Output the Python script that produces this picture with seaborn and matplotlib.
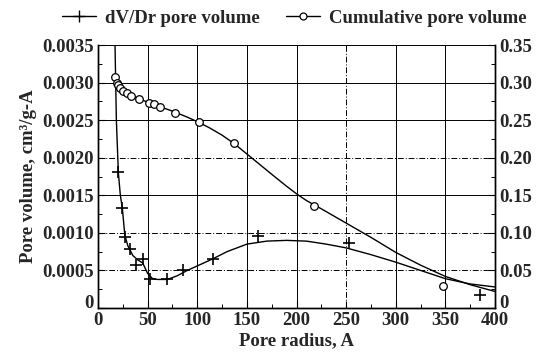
import numpy as np
import pandas as pd
import matplotlib
matplotlib.use("Agg")
import matplotlib.pyplot as plt
from matplotlib.lines import Line2D
from matplotlib.ticker import MultipleLocator, FuncFormatter
import seaborn as sns

# marcadores "+" (dV/Dr), eixo esquerdo
raio_dv = [20.5, 24, 27.5, 32, 38.4, 45.8, 52, 70, 86, 115.6, 161, 253, 385]
dv_pontos = [0.00181, 0.00133, 0.00095, 0.00078, 0.00057, 0.00065, 0.00039,
             0.00038, 0.00050, 0.00065, 0.00096, 0.00086, 0.00017]

# curva suavizada do dV/Dr
raio_dv_curva = [17, 18.5, 20.5, 22.5, 24.5, 27, 30, 35, 40, 45, 50, 55, 60, 70, 80,
                 90, 100, 115, 130, 150, 170, 190, 210, 230, 250, 275, 300, 325,
                 350, 375, 400]
dv_curva = [0.0036, 0.0025, 0.0018, 0.0015, 0.00133, 0.00097, 0.00083, 0.00070,
            0.00064, 0.00060, 0.00046, 0.00039, 0.00038, 0.00038, 0.00043,
            0.00050, 0.00056, 0.00065, 0.00075, 0.00085, 0.00089, 0.00090,
            0.00089, 0.00085, 0.00080, 0.00071, 0.00061, 0.00050, 0.00039,
            0.00032, 0.00028]

# volume acumulado (eixo direito)
raio_acum = [17, 18.7, 20.4, 22, 24.8, 29, 33.3, 41.2, 51.7, 56.1, 62.9, 77.2,
             102, 137, 218, 348]
acum_pontos = [0.307, 0.300, 0.2965, 0.293, 0.289, 0.286, 0.282, 0.278, 0.273,
               0.271, 0.267, 0.260, 0.247, 0.220, 0.136, 0.029]

raio_acum_curva = [17, 20, 25, 30, 40, 50, 60, 75, 90, 100, 112, 125, 137, 150,
                   175, 190, 200, 210, 225, 250, 275, 300, 325, 350, 375, 400]
acum_curva = [0.307, 0.298, 0.290, 0.286, 0.279, 0.274, 0.269, 0.262, 0.254,
              0.248, 0.240, 0.230, 0.219, 0.205, 0.178, 0.162, 0.152, 0.143,
              0.132, 0.113, 0.094, 0.074, 0.057, 0.042, 0.031, 0.022]

sns.set_theme(style="ticks")
plt.rcParams['font.family'] = ['Liberation Serif', 'DejaVu Serif']
plt.rcParams['font.weight'] = 'bold'
plt.rcParams['axes.labelweight'] = 'bold'
plt.rcParams['font.size'] = 13.5
plt.rcParams['xtick.direction'] = 'in'
plt.rcParams['ytick.direction'] = 'in'

fig = plt.figure(figsize=(5.4, 3.55), dpi=100)
ax = fig.add_axes([0.1815, 0.1324, 0.7352, 0.7408])
ax2 = ax.twinx()

# grade
ax.set_axisbelow(True)
ax.grid(True, color='black', lw=0.7)

sns.lineplot(x=raio_dv_curva, y=dv_curva, ax=ax, color='black', lw=1.0, sort=False)
sns.scatterplot(x=raio_dv, y=dv_pontos, ax=ax, marker='+', s=75, color='black',
                linewidth=1.2, zorder=3)

sns.lineplot(x=raio_acum_curva, y=acum_curva, ax=ax2, color='black', lw=1.0, sort=False)
sns.scatterplot(x=raio_acum, y=acum_pontos, ax=ax2, marker='o', s=30,
                facecolor='white', edgecolor='black', linewidth=0.9, zorder=3)

ax.set_xlim(0, 400)
ax.set_ylim(0, 0.0035)
ax2.set_ylim(0, 0.35)

ax.xaxis.set_major_locator(MultipleLocator(50))
ax.xaxis.set_minor_locator(MultipleLocator(25))
ax.yaxis.set_major_locator(MultipleLocator(0.0005))
ax.yaxis.set_minor_locator(MultipleLocator(0.00025))
ax2.yaxis.set_major_locator(MultipleLocator(0.05))
ax2.yaxis.set_minor_locator(MultipleLocator(0.025))

ax.yaxis.set_major_formatter(FuncFormatter(lambda v, p: '0' if abs(v) < 1e-9 else f'{v:.4f}'))
ax2.yaxis.set_major_formatter(FuncFormatter(lambda v, p: '0' if abs(v) < 1e-9 else f'{v:.2f}'))

for a in (ax, ax2):
    a.tick_params(which='major', length=5, width=0.8, color='black', labelsize=13.5, pad=3)
    a.tick_params(which='minor', length=3, width=0.7, color='black')
    for s in a.spines.values():
        s.set_color('black')
        s.set_linewidth(1.0)
    a.spines['top'].set_visible(False)
ax.tick_params(axis='x', which='both', top=False)
ax2.grid(False)

# algumas linhas da grade tracejadas, como no original; sem linha no topo
ylinhas = ax.yaxis.get_gridlines()
for i, gl in enumerate(ylinhas):
    if i in (2, 3, 5):
        gl.set_linestyle((0, (6, 2, 1, 2)))
ylinhas[-1].set_visible(False)
for i, gl in enumerate(ax.xaxis.get_gridlines()):
    if i == 6:
        gl.set_linestyle((0, (6, 2, 1, 2)))

fig.canvas.draw()
# o "0" dos dois eixos fica apoiado na linha do eixo
for a in (ax, ax2):
    for t in a.get_yticklabels():
        if t.get_text() == '0':
            t.set_verticalalignment('baseline')

ax.set_xlabel('Pore radius, A', fontsize=13.5, labelpad=2)
ax.set_ylabel('Pore volume, cm³/g-A', fontsize=13.5, labelpad=4)
ax2.set_ylabel('')

h1 = Line2D([], [], color='black', lw=1.0, marker='+', markersize=8, markeredgewidth=1.0)
h2 = Line2D([], [], color='black', lw=1.0, marker='o', markersize=5,
            markerfacecolor='white', markeredgewidth=0.9)
fig.legend([h1, h2], ['dV/Dr pore volume', 'Cumulative pore volume'],
           loc='center', bbox_to_anchor=(0.545, 0.948), ncol=2, frameon=False,
           fontsize=13.5, handlelength=1.8, columnspacing=1.4, handletextpad=0.5)

fig.savefig('out.png', dpi=100)
